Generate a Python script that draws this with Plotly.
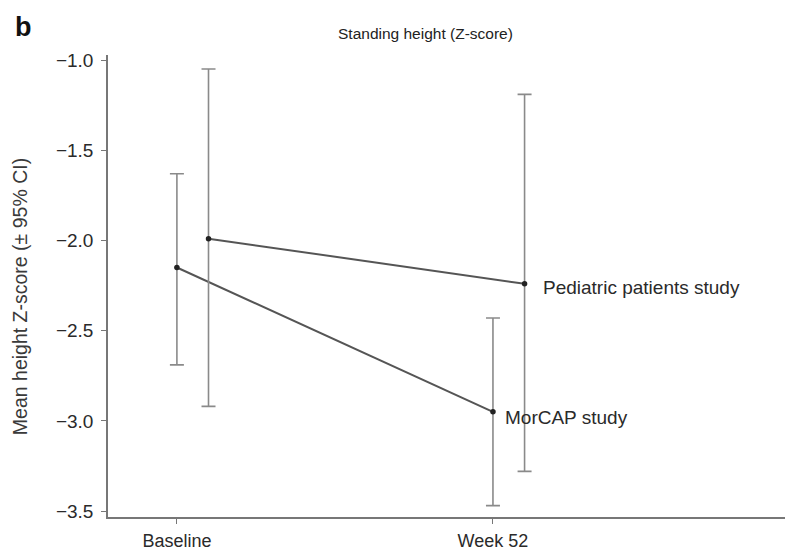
import plotly.graph_objects as go

# Visits on the x axis (numeric positions 0 and 1 with text labels)
visits = ["Baseline", "Week 52"]
visit_pos = [0, 1]

# MorCAP study: mean height Z-score with 95% CI bounds
morcap_mean = [-2.15, -2.95]
morcap_lo = [-2.69, -3.47]
morcap_hi = [-1.63, -2.43]

# Pediatric patients study: mean height Z-score with 95% CI bounds
ped_mean = [-1.99, -2.24]
ped_lo = [-2.92, -3.28]
ped_hi = [-1.05, -1.19]

y_ticks = [-1.0, -1.5, -2.0, -2.5, -3.0, -3.5]

DODGE = 0.1  # horizontal shift so the two studies' bars do not overlap
FONT = "Liberation Sans, Arial, Helvetica, sans-serif"
TEXT = "#2a2a2a"
LINE = "#555555"
ERR = "#8a8a8a"


def series(xs, mean, lo, hi, name):
    return go.Scatter(
        x=xs,
        y=mean,
        mode="lines+markers",
        name=name,
        line=dict(color=LINE, width=2),
        marker=dict(color="#222222", size=5.5),
        error_y=dict(
            type="data",
            symmetric=False,
            array=[h - m for h, m in zip(hi, mean)],
            arrayminus=[m - l for m, l in zip(mean, lo)],
            color=ERR,
            thickness=1.6,
            width=7,
        ),
        showlegend=False,
    )


morcap_x = list(visit_pos)
ped_x = [p + DODGE for p in visit_pos]

fig = go.Figure()
fig.add_trace(series(morcap_x, morcap_mean, morcap_lo, morcap_hi, "MorCAP study"))
fig.add_trace(series(ped_x, ped_mean, ped_lo, ped_hi, "Pediatric patients study"))

# End-of-line study labels next to the Week 52 points
fig.add_annotation(x=ped_x[1], y=ped_mean[1], text="Pediatric patients study",
                   xanchor="left", yanchor="middle", xshift=16, yshift=-4, showarrow=False,
                   font=dict(family=FONT, size=19, color=TEXT))
fig.add_annotation(x=morcap_x[1], y=morcap_mean[1], text="MorCAP study",
                   xanchor="left", yanchor="middle", xshift=10, yshift=-6, showarrow=False,
                   font=dict(family=FONT, size=19, color=TEXT))

# Panel letter, panel title and y-axis title
fig.add_annotation(xref="paper", yref="paper", x=-0.14, y=1.06, text="<b>b</b>",
                   xanchor="left", yanchor="middle", showarrow=False,
                   font=dict(family=FONT, size=27, color="#111111"))
fig.add_annotation(xref="paper", yref="paper", x=0.469, y=1.047,
                   text="Standing height (Z-score)",
                   xanchor="center", yanchor="middle", showarrow=False,
                   font=dict(family=FONT, size=15.5, color="#222222"))
fig.add_annotation(xref="paper", yref="paper", x=-0.13, y=0.478,
                   text="Mean height Z-score (± 95% CI)", textangle=-90,
                   xanchor="center", yanchor="middle", showarrow=False,
                   font=dict(family=FONT, size=19.5, color="#3a3a3a"))

fig.update_layout(
    width=799,
    height=551,
    margin=dict(l=108, r=14, t=55, b=34, autoexpand=False),
    paper_bgcolor="white",
    plot_bgcolor="white",
    font=dict(family=FONT, color=TEXT),
    xaxis=dict(
        range=[-0.218, 1.924],
        tickvals=visit_pos,
        ticktext=visits,
        showline=True,
        linecolor="#777777",
        linewidth=1.6,
        ticks="outside",
        ticklen=5,
        tickwidth=1.4,
        tickcolor="#777777",
        showgrid=False,
        zeroline=False,
        automargin=False,
        ticklabelstandoff=2,
        tickfont=dict(family=FONT, size=18, color=TEXT),
    ),
    yaxis=dict(
        range=[-3.533, -0.972],
        tickvals=y_ticks,
        tickformat=".1f",
        showline=True,
        linecolor="#777777",
        linewidth=1.6,
        ticks="outside",
        ticklen=5,
        tickwidth=1.4,
        tickcolor="#777777",
        showgrid=False,
        zeroline=False,
        automargin=False,
        ticklabelstandoff=4,
        tickfont=dict(family=FONT, size=19, color=TEXT),
    ),
)

fig.write_html("out.html")
